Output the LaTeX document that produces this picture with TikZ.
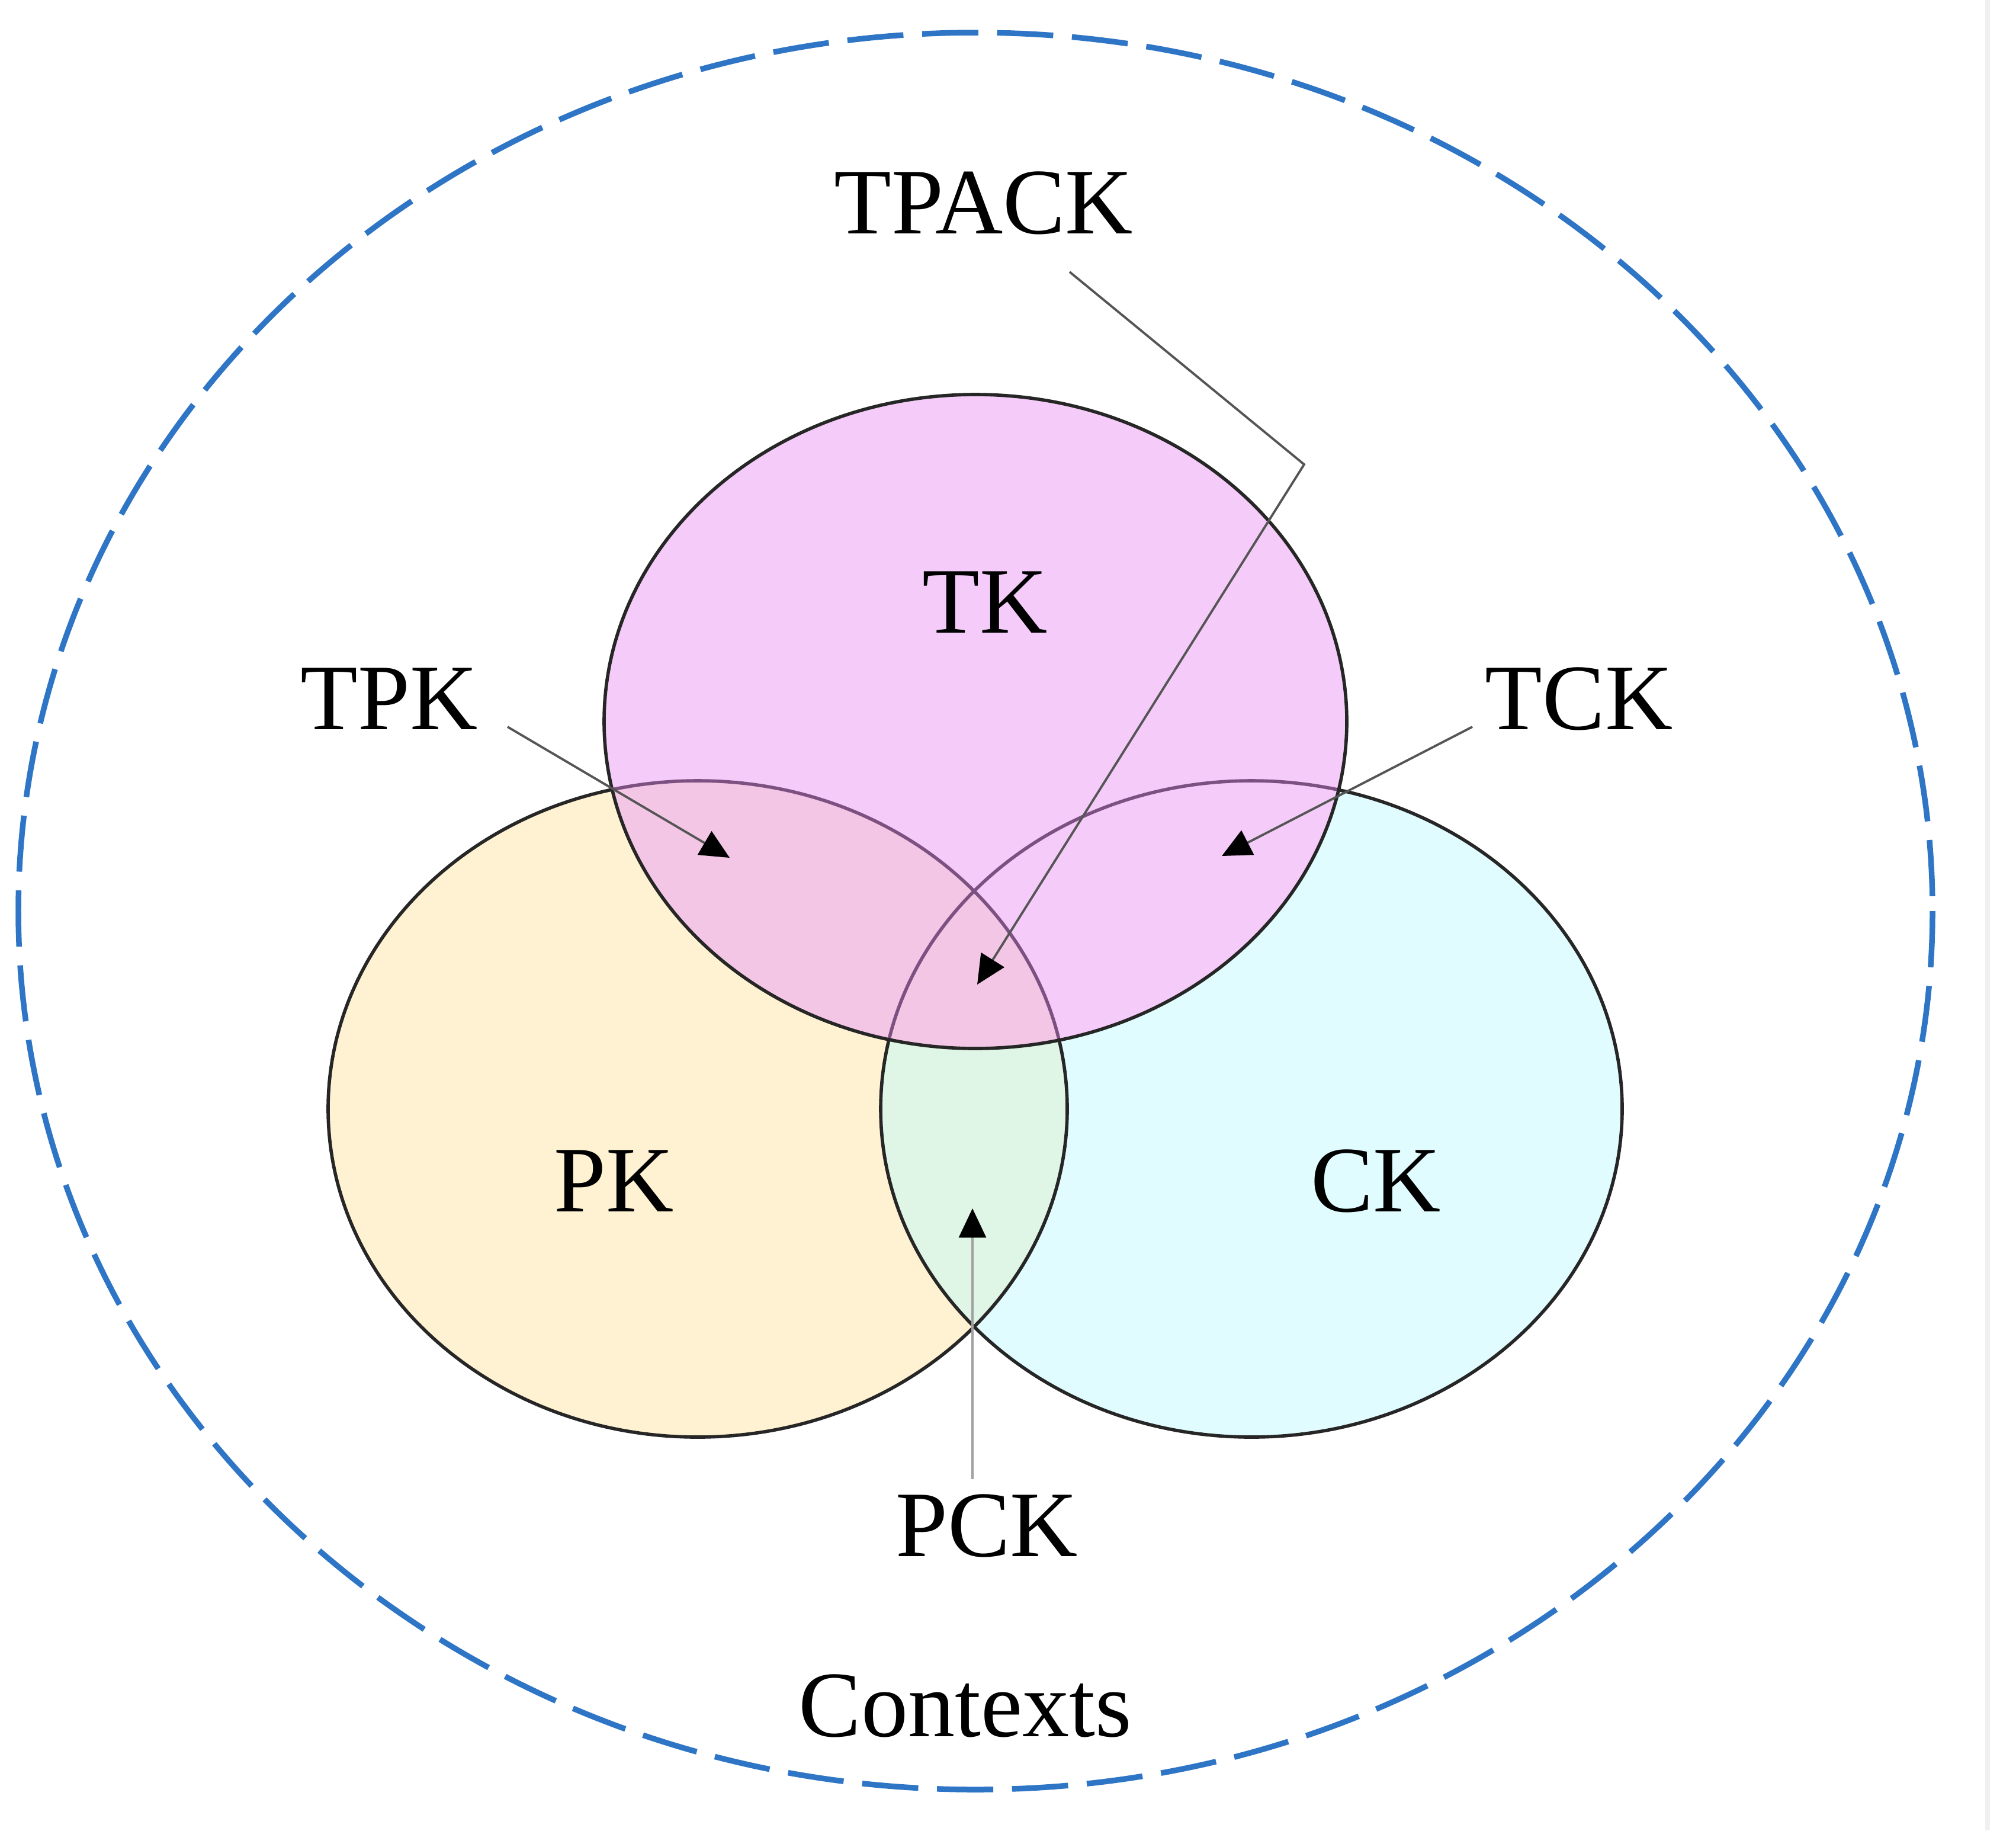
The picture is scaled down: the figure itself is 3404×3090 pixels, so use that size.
\documentclass[tikz,border=0pt]{standalone}
\usepackage{fontspec}
\setmainfont{Liberation Serif}
\usetikzlibrary{arrows.meta}
\definecolor{tkfill}{RGB}{245,204,249}
\definecolor{tpkfill}{RGB}{243,198,230}
\definecolor{pkfill}{RGB}{255,242,210}
\definecolor{ckfill}{RGB}{224,252,255}
\definecolor{pckfill}{RGB}{223,245,229}
\definecolor{ctxblue}{RGB}{46,117,198}
\definecolor{conn}{RGB}{85,85,85}
\definecolor{innerline}{RGB}{125,80,130}
\begin{document}
\begin{tikzpicture}[x=0.01cm,y=-0.01cm,
  lbl/.style={font=\fontsize{45}{54}\selectfont, anchor=base, inner sep=0pt},
  ring/.style={draw=black!85, line width=1.6pt},
  pointer/.style={draw=conn, line width=1.1pt, -{Triangle[length=14pt,width=13pt,color=black]}},
  ctxline/.style={draw=ctxblue, line width=2.7pt, dash pattern=on 27pt off 9pt}
  ]
\useasboundingbox (0,0) rectangle (3404,3090);
\fill[white] (0,0) rectangle (3404,3090);
\fill[gray!12] (3352,0) rectangle (3360,3090);

% centres
\coordinate (ctx) at (1647,1538);
\coordinate (tkc) at (1647,1218);
\coordinate (pkc) at (1178,1872);
\coordinate (ckc) at (2113,1872);

% contexts
\path[ctxline] (ctx) ellipse [x radius=1616, y radius=1483];

% PK and CK
\fill[pkfill] (pkc) ellipse [x radius=624, y radius=554];
\fill[ckfill] (ckc) ellipse [x radius=626, y radius=554];
\begin{scope}
  \clip (pkc) ellipse [x radius=624, y radius=554];
  \fill[pckfill] (ckc) ellipse [x radius=626, y radius=554];
\end{scope}
\path[ring] (pkc) ellipse [x radius=624, y radius=554];
\path[ring] (ckc) ellipse [x radius=626, y radius=554];

% TK (drawn over, inner outlines show through)
\fill[tkfill] (tkc) ellipse [x radius=627, y radius=552];
\begin{scope}
  \clip (tkc) ellipse [x radius=627, y radius=552];
  \fill[tpkfill] (pkc) ellipse [x radius=624, y radius=554];
  \draw[innerline, line width=1.6pt] (pkc) ellipse [x radius=624, y radius=554];
  \draw[innerline, line width=1.6pt] (ckc) ellipse [x radius=626, y radius=554];
\end{scope}
\path[ring] (tkc) ellipse [x radius=627, y radius=552];

% labels
\node[lbl] (tpack) at (1661,394) {TPACK};
\node[lbl] (tk) at (1663,1068) {TK};
\node[lbl] (tpk) at (657,1231) {TPK};
\node[lbl] (tck) at (2666,1231) {TCK};
\node[lbl] (pk) at (1037,2045) {PK};
\node[lbl] (ck) at (2323,2045) {CK};
\node[lbl] (pck) at (1666,2627) {PCK};
\node[lbl] (contexts) at (1630,2931) {Contexts};

% connector ends
\coordinate (tpkstart) at (857,1227);
\coordinate (tpktip) at (1232,1448);
\coordinate (tckstart) at (2486,1227);
\coordinate (tcktip) at (2063,1445);
\coordinate (tpackstart) at (1806,459);
\coordinate (tpackbend) at (2202,784);
\coordinate (tpacktip) at (1650,1662);
\coordinate (pckstart) at (1642,2497);
\coordinate (pcktip) at (1642,2040);

\draw[pointer] (tpkstart) -- (tpktip);
\draw[pointer] (tckstart) -- (tcktip);
\draw[pointer] (tpackstart) -- (tpackbend) -- (tpacktip);
\draw[pointer, draw=conn!55] (pckstart) -- (pcktip);
\end{tikzpicture}
\end{document}
